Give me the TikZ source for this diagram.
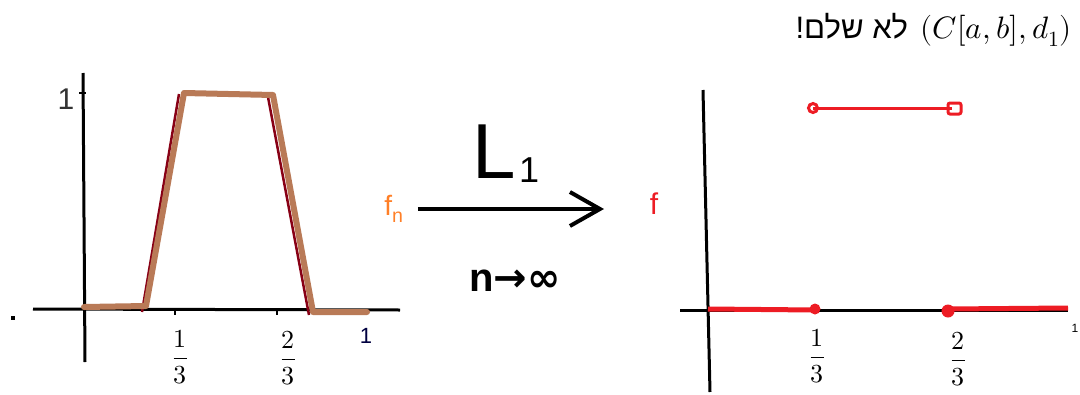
\documentclass[tikz,border=0pt]{standalone}
\usepackage{amsmath}
\usepackage{fontspec}
\usepackage{unicode-math}
\setmathfont{Latin Modern Math}
\setsansfont{Liberation Sans}
\newfontfamily\hebfont[Script=Hebrew]{Liberation Sans}
\newfontfamily\symfont{DejaVu Sans}
\TeXXeTstate=1
\usetikzlibrary{arrows.meta,positioning}
\definecolor{fnbrown}{RGB}{185,122,87}
\definecolor{fndark}{RGB}{136,0,21}
\definecolor{fnorange}{RGB}{255,127,39}
\definecolor{limred}{RGB}{237,28,36}

\begin{document}
\begin{tikzpicture}[
  x=1pt, y=-1pt,
  axis/.style={draw=black, line width=3pt},
  tick/.style={draw=black, line width=1.2pt},
  seqline/.style={draw=fnbrown, line width=6pt, line cap=round, line join=round},
  seqedge/.style={draw=fndark, line width=2.5pt},
  limline/.style={draw=limred, line width=5pt},
  limend/.style={draw=limred, line width=3pt},
  conv/.style={draw=black, line width=4pt, -{Straight Barb[length=30pt,width=34pt,line width=4pt]}},
  frac/.style={font=\fontsize{26}{26}\selectfont, inner sep=0pt}
]
  \useasboundingbox (0,0) rectangle (1080,394);
  % left plot: the sequence f_n
  \draw[axis] (83,73) -- (85,362);
  \draw[axis] (33,309) -- (400,310);
  \draw[tick] (79,93) -- (86,93);
  \draw[tick] (175,309) -- (175,315);
  \draw[tick] (277,309) -- (277,315);
  \fill (11,316) rectangle (15,320);
  \draw[seqedge] (142,312) -- (179,94);
  \draw[seqedge] (268,97) -- (309,315);
  \draw[seqline] (84,307) -- (146,306) -- (184,93) -- (273,95) -- (313,312) -- (367,312);
  \node[font=\fontsize{30}{30}\selectfont\sffamily\color{black!80}, inner sep=0pt] (one) at (66,99) {1};
  \node[frac] (lthird) at (180,357) {$\displaystyle\frac{1}{3}$};
  \node[frac] (ltwothird) at (288,358) {$\displaystyle\frac{2}{3}$};
  \node[font=\fontsize{22}{22}\selectfont\sffamily\color{blue!25!black}, inner sep=0pt] (lone) at (366,336) {1};
  % convergence arrow
  \node[font=\fontsize{28}{28}\selectfont\sffamily\color{fnorange}, inner sep=0pt] (fn) at (394,209) {f\textsubscript{n}};
  \node[font=\fontsize{30}{30}\selectfont\sffamily\color{limred}, inner sep=0pt] (f) at (654,204) {f};
  \draw[conv, shorten <=14pt, shorten >=50pt] (fn) -- (fn -| f);
  \node[font=\fontsize{78}{78}\selectfont\sffamily, inner sep=0pt] (norm) at (506,154) {L\hspace{3pt}\raisebox{-4pt}{\fontsize{36}{36}\selectfont 1}};
  \node[font=\fontsize{40}{40}\selectfont\sffamily\bfseries, inner sep=0pt] (ninf) at (515,281) {n{\symfont\bfseries →∞}};
  % right plot: the limit f
  \draw[axis] (703,90) -- (710,392);
  \draw[axis] (680,310) -- (1068,310);
  \draw[limline] (708,309) -- (815,310);
  \draw[limline] (948,309) -- (1068,308);
  \fill[limred] (815,309) circle[radius=5.5];
  \fill[limred] (948,311) circle[radius=6.5];
  \draw[limend] (813,108) -- (952,108);
  \draw[limend] (813,108) circle[radius=4.5];
  \draw[limend, rounded corners=2pt] (948,103) rectangle (961,114);
  \node[frac] (rthird) at (817,356) {$\displaystyle\frac{1}{3}$};
  \node[frac] (rtwothird) at (958,359) {$\displaystyle\frac{2}{3}$};
  \node[font=\fontsize{12}{12}\selectfont\sffamily, inner sep=0pt] (rone) at (1075,328) {1};
  % caption
  \node[anchor=east, font=\fontsize{31}{36}\selectfont, inner sep=0pt] (title) at (1072,30) {{\hebfont\beginR לא שלם!\endR} $(C[a,b],d_1)$};
\end{tikzpicture}
\end{document}
